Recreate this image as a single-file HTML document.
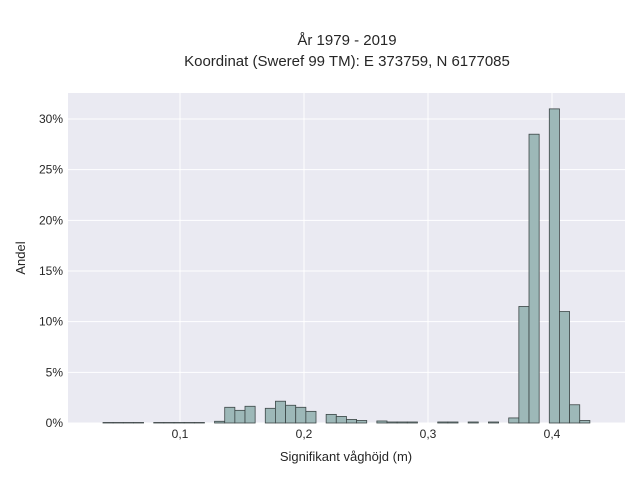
<!DOCTYPE html>
<html><head><meta charset="utf-8"><style>
body{margin:0;background:#fff;}
svg text{font-family:"Liberation Sans",sans-serif;fill:#262626;}
</style></head><body>
<svg id="chart" width="640" height="480">
<text x="347" y="45" font-size="15" text-anchor="middle">År 1979 - 2019</text>
<text x="347" y="66" font-size="15" text-anchor="middle">Koordinat (Sweref 99 TM): E 373759, N 6177085</text>
<rect x="68" y="93" width="557" height="330" fill="#eaeaf2"/>
<g id="grid"></g><g id="bars"></g><g id="ticks"></g>
<text x="346" y="461" font-size="13" text-anchor="middle">Signifikant våghöjd (m)</text>
<text transform="translate(25,258) rotate(-90)" font-size="13" text-anchor="middle">Andel</text>
</svg>
<script>
const binStart = 0.0379;
const binWidth = 0.00818;
const values = [0.05,0.05,0.05,0.05,0,0.05,0.05,0.05,0.05,0.05,0,0.17,1.55,1.25,1.65,0,1.45,2.15,1.75,1.55,1.15,0,0.85,0.65,0.35,0.25,0,0.2,0.1,0.1,0.1,0,0,0.1,0.1,0,0.1,0,0.1,0,0.5,11.5,28.5,0,31,11,1.8,0.25];
const xTicks = [0.1,0.2,0.3,0.4];
const xTickLabels = ["0,1","0,2","0,3","0,4"];
const yTicks = [0,5,10,15,20,25,30];
const yTickLabels = ["0%","5%","10%","15%","20%","25%","30%"];
const X = v => 180 + (v - 0.1) * 1240;
const Y = v => 423 - v * 10.133;
const NS = "http://www.w3.org/2000/svg";
const grid = document.getElementById('grid'), bars = document.getElementById('bars'), ticks = document.getElementById('ticks');
function mk(tag, attrs, parent){const e=document.createElementNS(NS,tag);for(const k in attrs)e.setAttribute(k,attrs[k]);parent.appendChild(e);return e;}
yTicks.forEach((t,i)=>{
  const l=mk('line',{x1:68,x2:625,y1:Y(t),y2:Y(t),stroke:'#fff','stroke-width':1},grid);
  
  
  const tx=mk('text',{x:63,y:Y(t)+4,'font-size':12,'text-anchor':'end'},ticks);
  tx.textContent=yTickLabels[i];
  
  
});
xTicks.forEach((t,i)=>{
  const l=mk('line',{x1:X(t),x2:X(t),y1:93,y2:423,stroke:'#fff','stroke-width':1},grid);
  
  
  const tx=mk('text',{x:X(t),y:438,'font-size':12,'text-anchor':'middle'},ticks);
  tx.textContent=xTickLabels[i];
  
  
});
values.forEach((v,i)=>{
  if(v<=0)return;
  const x0=X(binStart+i*binWidth), x1=X(binStart+(i+1)*binWidth);
  const r=mk('rect',{x:x0,y:Y(v),width:x1-x0,height:423-Y(v),fill:'#9db8b8',stroke:'#3c4646','stroke-width':0.8},bars);
  
  
});
</script>
</body></html>
